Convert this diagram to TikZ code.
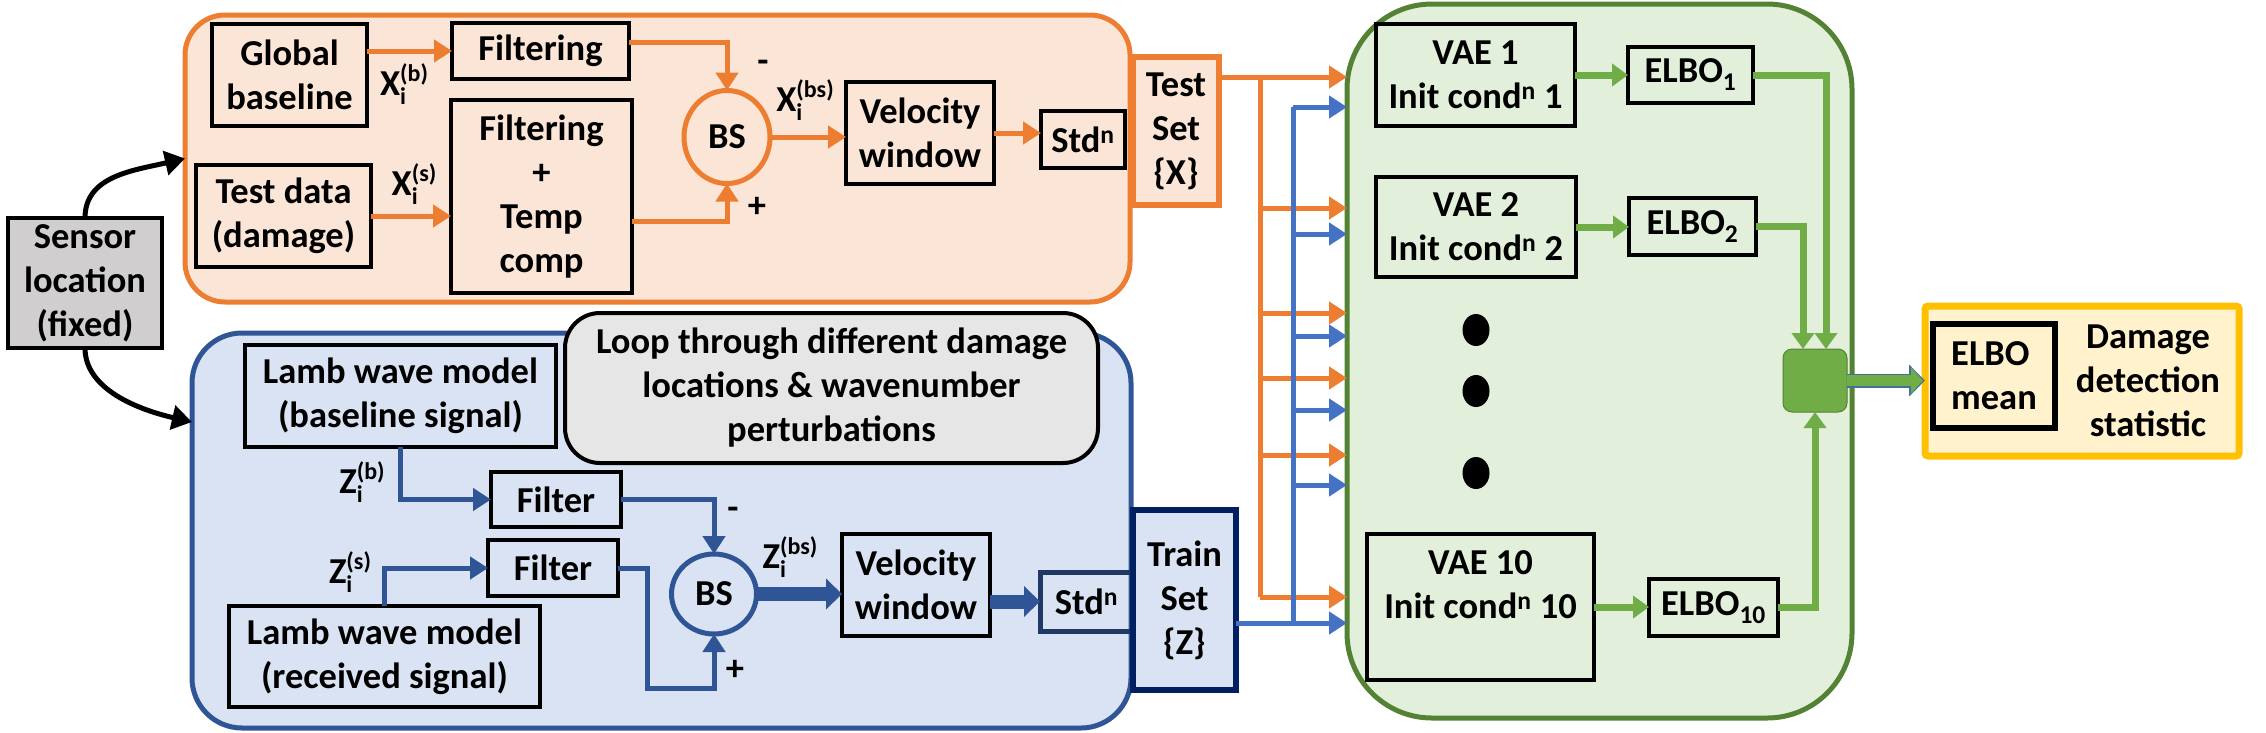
\documentclass[tikz,border=0pt]{standalone}
\usepackage{fontspec}
\setmainfont{Carlito}
\usetikzlibrary{arrows.meta,shapes.geometric,calc}
\definecolor{orng}{HTML}{ED7D31}
\definecolor{orngfill}{HTML}{FBE5D6}
\definecolor{bluedk}{HTML}{2F5597}
\definecolor{bluefill}{HTML}{DAE3F3}
\definecolor{bluebus}{HTML}{4472C4}
\definecolor{navyA}{HTML}{203864}
\definecolor{navyB}{HTML}{002060}
\definecolor{grn}{HTML}{70AD47}
\definecolor{grndk}{HTML}{548235}
\definecolor{grnfill}{HTML}{E2EFDA}
\definecolor{goldc}{HTML}{FFC000}
\definecolor{goldfill}{HTML}{FFF2CC}
\definecolor{loopfill}{HTML}{E7E6E6}
\definecolor{sensfill}{HTML}{D0CECE}
\definecolor{arrowedge}{HTML}{41719C}
\newcommand\ssc[2]{\raisebox{-9pt}{\fontsize{24}{19}\selectfont\begin{tabular}[b]{@{}l@{}}#1\\#2\end{tabular}}}
\begin{document}
\begin{tikzpicture}[x=1pt,y=-1pt,
  every node/.style={font=\bfseries\fontsize{36.5}{44}\selectfont, inner sep=0pt, outer sep=0pt, align=center},
  wh/.style 2 args={minimum width=#1, minimum height=#2},
  box/.style={draw=black, line width=4pt},
  oarr/.style={draw=orng, line width=5pt, -{Triangle[length=18pt,width=22pt]}},
  oline/.style={draw=orng, line width=5pt},
  barr/.style={draw=bluedk, line width=5pt, -{Triangle[length=18pt,width=22pt]}},
  bthick/.style={draw=bluedk, line width=14pt, -{Triangle[length=16pt,width=30pt]}},
  busarr/.style={draw=bluebus, line width=5pt, -{Triangle[length=18pt,width=22pt]}},
  busline/.style={draw=bluebus, line width=5pt},
  garr/.style={draw=grn, line width=7pt, -{Triangle[length=16pt,width=22pt]}},
  karr/.style={draw=black, line width=5pt, -{Triangle[length=20pt,width=24pt]}}]
\useasboundingbox (0,0) rectangle (2266,732);

% ---------- panels ----------
\node[draw=orng, line width=5pt, fill=orngfill, rounded corners=40pt, wh={945pt}{287pt}] (opanel) at (657.5,158.5) {};
\node[draw=bluedk, line width=5pt, fill=bluefill, rounded corners=50pt, wh={939pt}{395pt}] (bpanel) at (661.5,530.5) {};
\node[draw=grndk, line width=5pt, fill=grnfill, rounded corners=85pt, wh={505pt}{714pt}] (gpanel) at (1599.5,361) {};
\node[box, fill=loopfill, rounded corners=35pt, wh={533pt}{150pt}] (loop) at (831.5,388) {Loop through different damage\\locations \& wavenumber\\perturbations};

% ---------- sensor ----------
\node[box, fill=sensfill, wh={154pt}{130pt}] (sensor) at (85,283) {Sensor\\location\\(fixed)};
\coordinate (bin) at ($(bpanel.north west)+(0,89)$);
\draw[karr] (sensor.north) .. controls +(0,-42) and +(-52,12) .. (opanel.west);
\draw[karr] (sensor.south) .. controls +(0,42) and +(-52,-12) .. (bin);

% ---------- orange (test) ----------
\node[box, wh={155pt}{102pt}] (glob) at (289.5,75) {Global\\baseline};
\node[box, wh={177pt}{56pt}] (filt1) at (540.5,51) {Filtering};
\node[box, wh={175pt}{102pt}] (test) at (283.5,216) {Test data\\(damage)};
\node[box, wh={181pt}{193pt}] (ftc) at (541.5,196.5) {Filtering\\+\\Temp\\comp};
\node[ellipse, draw=orng, line width=5pt, fill=orngfill, wh={86pt}{93pt}] (bso) at (727,137) {BS};
\node[box, wh={148pt}{102pt}] (vw) at (920,133) {Velocity\\window};
\node[box, wh={84pt}{57pt}] (std) at (1083,139.5) {Std\textsuperscript{n}};
\node[draw=orng, line width=6pt, fill=orngfill, wh={86pt}{148pt}] (testset) at (1176,131) {Test\\Set\\\{X\}};

\node (xb) at (404,87) {X\ssc{(b)}{i}};
\node (xs) at (414,187) {X\ssc{(s)}{i}};
\node (xbs) at (805,103) {X\ssc{(bs)}{i}};
\node (ominus) at (763,66) {-};
\node (oplus) at (757,207) {+};

\draw[oarr] (filt1.west -| glob.east) -- (filt1.west);
\draw[oarr] (test.east) -- (test.east -| ftc.west);
\draw[oarr] ($(filt1.east)+(0,-9)$) -| (bso.north);
\draw[oarr] ($(ftc.east)+(0,25)$) -| (bso.south);
\draw[oarr] (bso.east) -- (bso.east -| vw.west);
\draw[oarr] (vw.east) -- (vw.east -| std.west);

% ---------- blue (train) ----------
\node[box, wh={311pt}{102pt}] (lwmb) at (400.5,396) {Lamb wave model\\(baseline signal)};
\node[box, wh={311pt}{101pt}] (lwmr) at (384.5,656.5) {Lamb wave model\\(received signal)};
\node[box, wh={130pt}{55pt}] (filter1) at (556,499.5) {Filter};
\node[box, wh={130pt}{56pt}] (filter2) at (553,568) {Filter};
\node[ellipse, draw=bluedk, line width=5pt, fill=bluefill, wh={85pt}{80pt}] (bsb) at (714,594) {BS};
\node[box, wh={148pt}{102pt}] (vwb) at (916,585) {Velocity\\window};
\node[draw=navyA, line width=5pt, wh={93pt}{59pt}] (stdb) at (1086.5,601.5) {Std\textsuperscript{n}};
\node[draw=navyB, line width=6pt, fill=bluefill, wh={103pt}{180pt}] (trainset) at (1184.5,600) {Train\\Set\\\{Z\}};

\node (zb) at (362,485) {Z\ssc{(b)}{i}};
\node (zs) at (350,575) {Z\ssc{(s)}{i}};
\node (zbs) at (790,560) {Z\ssc{(bs)}{i}};
\node (bminus) at (733,513) {-};
\node (bplus) at (735,670) {+};

\draw[barr] (lwmb.south) |- (filter1.west);
\draw[barr] (lwmr.north) |- (filter2.west);
\draw[barr] (filter1.east) -| (bsb.north);
\draw[barr] (filter2.east) -- ++(29,0) |- ($(bsb.south)+(0,54)$) -- (bsb.south);
\draw[bthick] (bsb.east) -- (bsb.east -| vwb.west);
\draw[bthick] (stdb.west -| vwb.east) -- (stdb.west);

% ---------- bus ----------
\coordinate (ot) at ($(testset.north east)+(0,20)$);
\coordinate (obtop) at (1260,77);
\coordinate (obbot) at (1260,597);
\draw[oline] (obtop) -- (obbot);
\draw[oarr] (ot) -- (ot -| gpanel.west);
\foreach \yy in {208,313,378,455,597}{
  \coordinate (ob) at (1260,\yy);
  \draw[oarr] (ob) -- (ob -| gpanel.west);
}
\coordinate (zt) at ($(trainset.east)+(0,23)$);
\coordinate (bbtop) at (1293,107);
\coordinate (bbbot) at (1293,623);
\draw[busline] (bbbot) -- (bbtop);
\draw[busarr] (zt) -- (zt -| gpanel.west);
\foreach \yy in {107,234,336,410,485}{
  \coordinate (bb) at (1293,\yy);
  \draw[busarr] (bb) -- (bb -| gpanel.west);
}

% ---------- green (VAE) ----------
\node[box, wh={199pt}{102pt}] (vae1) at (1475.5,75) {VAE 1\\Init cond\textsuperscript{n} 1};
\node[box, wh={125pt}{56pt}] (elbo1) at (1690.5,75) {ELBO\textsubscript{1}};
\node[box, wh={200pt}{100pt}] (vae2) at (1476,227) {VAE 2\\Init cond\textsuperscript{n} 2};
\node[box, wh={127pt}{57pt}] (elbo2) at (1692.5,226.5) {ELBO\textsubscript{2}};
\node[box, wh={227pt}{146pt}] (vae10) at (1480.5,607) {VAE 10\\Init cond\textsuperscript{n} 10\\\mbox{}};
\node[box, wh={129pt}{57pt}] (elbo10) at (1713.5,607.5) {ELBO\textsubscript{10}};
\node[ellipse, fill=black, wh={27pt}{32pt}] (dot1) at (1476,330) {};
\node[ellipse, fill=black, wh={27pt}{32pt}] (dot2) at (1476,391) {};
\node[ellipse, fill=black, wh={27pt}{32pt}] (dot3) at (1476,473) {};
\node[fill=grn, draw=grndk, line width=1pt, rounded corners=9pt, wh={64pt}{63pt}] (mean) at (1815,380.5) {};

\draw[garr] (vae1.east) -- (elbo1.west);
\draw[garr] (vae2.east) -- (vae2.east -| elbo2.west);
\draw[garr] (vae10.east) -- (vae10.east -| elbo10.west);
\draw[garr] (elbo1.east) -| ($(mean.north)+(11,0)$);
\draw[garr] (elbo2.east) -| ($(mean.north)+(-12,0)$);
\draw[garr] (elbo10.east) -| (mean.south);

% ---------- output ----------
\node[draw=goldc, line width=7pt, fill=goldfill, rounded corners=3pt, wh={314pt}{150pt}] (outbox) at (2082,381) {};
\node[draw=black, line width=6pt, wh={122pt}{104pt}, align=left] (elbomean) at (1994,376) {ELBO\\mean};
\node (dds) at (2148,381) {Damage\\detection\\statistic};
\draw[draw=arrowedge, line width=14pt, -{Triangle[length=16pt,width=31pt]}] (mean.east) -- (mean.east -| outbox.west);
\draw[draw=grn, line width=11pt, shorten >=2pt, -{Triangle[length=12pt,width=25pt]}] (mean.east) -- (mean.east -| outbox.west);
\end{tikzpicture}
\end{document}
